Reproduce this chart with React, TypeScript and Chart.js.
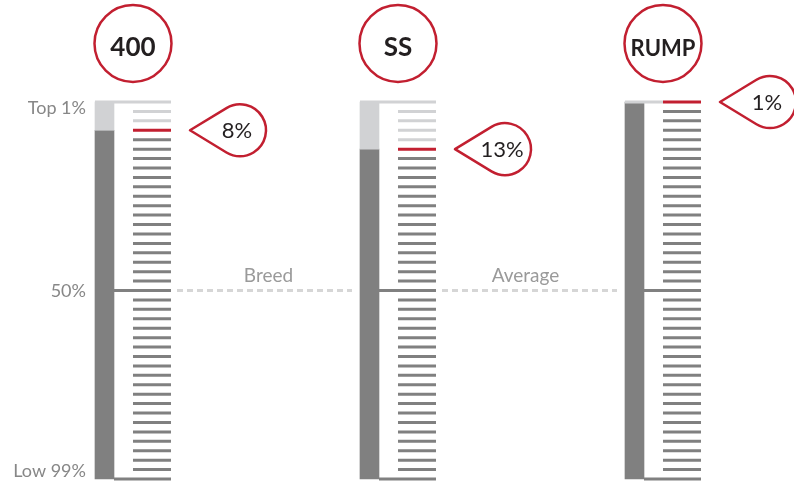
import React, { useEffect, useRef } from "react";
import { Chart, registerables } from "chart.js";

Chart.register(...registerables);

// ---- data ----
const traits: string[] = ["400", "SS", "RUMP"];
const percentiles: number[] = [8, 13, 1];
const scaleLabels: string[] = ["Top 1%", "50%", "Low 99%"];
const scaleLabelValues: number[] = [0, 50, 100];
const referenceLabels: string[] = ["Breed", "Average"];
const referenceValue = 50;
const tickStep = 2.5;
const scaleMin = 0;
const scaleMax = 100;

// ---- style ----
const RED = "#c21f30";
const DARK = "#808080";
const LIGHT = "#d1d2d4";
const DASH = "#d6d6d6";
const TEXT = "#231f20";
const LABEL = "#878787";
const FONT = "Lato, 'Noto Sans', sans-serif";

// layout: offsets in px relative to each gauge's bar centre; one gauge = 265px
const GAUGE_PX = 265;
const u = (px: number) => px / GAUGE_PX;
const X_MIN = -0.3943;
const X_MAX = 2.6019;
const BAR_HALF = 9.5;
const TICK_START = 28.5;
const TICK_END = 66.5;
const DASH_START = 72.5;
const DASH_END = 247.5;
const BODY_CENTER = 28.5;
const TIP_OFFSET = 85.5;
const BUBBLE_DIST = 50;
const BUBBLE_R = 26;
const REF_LABEL_POS = [164, 156];

const tickValues: number[] = [];
for (let v = scaleMin; v <= scaleMax + 1e-9; v += tickStep) tickValues.push(v);
const snap = (p: number) => Math.round(p / tickStep) * tickStep;

function buildTickData() {
  const light: any[] = [];
  const red: any[] = [];
  const dark: any[] = [];
  const seg = (arr: any[], x0: number, x1: number, v: number) => {
    arr.push({ x: x0, y: v }, { x: x1, y: v }, { x: x1, y: null });
  };
  traits.forEach((_, i) => {
    const m = snap(percentiles[i]);
    tickValues.forEach((v) => {
      const target = v < m ? light : v === m ? red : dark;
      seg(target, i + u(TICK_START), i + u(TICK_END), v);
      if (v === scaleMin) seg(light, i - u(BAR_HALF), i + u(TICK_START), v);
      if (v === referenceValue || v === scaleMax)
        seg(dark, i + u(BAR_HALF), i + u(TICK_START), v);
    });
  });
  return { light, red, dark };
}

function buildDashData() {
  const pts: any[] = [];
  for (let i = 0; i < traits.length - 1; i++) {
    pts.push(
      { x: i + u(DASH_START), y: referenceValue },
      { x: i + u(DASH_END), y: referenceValue },
      { x: i + u(DASH_END), y: null }
    );
  }
  return pts;
}

const overlayPlugin = {
  id: "gaugeOverlay",
  afterDatasetsDraw(chart: any) {
    const { ctx } = chart;
    const x = chart.scales.x;
    const y = chart.scales.y;
    ctx.save();

    // scale labels
    ctx.fillStyle = LABEL;
    ctx.font = `18px ${FONT}`;
    ctx.textAlign = "right";
    ctx.textBaseline = "alphabetic";
    const lblOff = [12, 6, -2];
    scaleLabels.forEach((t, k) => {
      ctx.fillText(t, x.getPixelForValue(0) - 18.5, y.getPixelForValue(scaleLabelValues[k]) + lblOff[k]);
    });

    // reference labels
    ctx.fillStyle = "#9a9a9a";
    ctx.font = `19px ${FONT}`;
    ctx.textAlign = "center";
    referenceLabels.forEach((t, k) => {
      ctx.fillText(t, x.getPixelForValue(k) + REF_LABEL_POS[k], y.getPixelForValue(referenceValue) - 8.5);
    });

    // trait circles
    traits.forEach((t, i) => {
      const cx = x.getPixelForValue(i) + BODY_CENTER;
      const cy = 43.5;
      ctx.beginPath();
      ctx.arc(cx, cy, 38.5, 0, Math.PI * 2);
      ctx.fillStyle = "#fff";
      ctx.fill();
      ctx.lineWidth = 2.5;
      ctx.strokeStyle = RED;
      ctx.stroke();
      ctx.fillStyle = TEXT;
      ctx.font = `bold ${t.length > 3 ? 22 : 26}px ${FONT}`;
      ctx.textAlign = "center";
      ctx.fillText(t, cx, 56);
    });

    // callouts
    traits.forEach((_, i) => {
      const tx = x.getPixelForValue(i) + TIP_OFFSET;
      const ty = y.getPixelForValue(snap(percentiles[i]));
      const cx = tx + BUBBLE_DIST;
      const a = Math.acos(BUBBLE_R / BUBBLE_DIST);
      ctx.beginPath();
      ctx.moveTo(tx, ty);
      ctx.arc(cx, ty, BUBBLE_R, Math.PI + a, Math.PI - a, false);
      ctx.closePath();
      ctx.fillStyle = "#fff";
      ctx.fill();
      ctx.lineJoin = "round";
      ctx.lineWidth = 2.5;
      ctx.strokeStyle = RED;
      ctx.stroke();
      ctx.fillStyle = TEXT;
      ctx.font = `22px ${FONT}`;
      ctx.textAlign = "center";
      ctx.fillText(`${percentiles[i]}%`, cx - 3, ty + 8);
    });

    ctx.restore();
  },
};

export default function App() {
  const ref = useRef<HTMLCanvasElement | null>(null);
  useEffect(() => {
    if (!ref.current) return;
    const ticks = buildTickData();
    const lineBase = {
      type: "line" as const,
      pointRadius: 0,
      borderWidth: 3,
      borderCapStyle: "butt" as const,
      spanGaps: false,
      fill: false,
      clip: false as any,
      order: 1,
    };
    const chart = new Chart(ref.current, {
      type: "bar",
      data: {
        datasets: [
          { ...lineBase, label: "dark ticks", data: ticks.dark, borderColor: DARK },
          { ...lineBase, label: "light ticks", data: ticks.light, borderColor: LIGHT },
          { ...lineBase, label: "marker", data: ticks.red, borderColor: RED },
          { ...lineBase, label: "reference", data: buildDashData(), borderColor: DASH, borderDash: [6, 4] },
          {
            type: "bar",
            label: "above",
            data: traits.map((_, i) => ({ x: i, y: [scaleMin, snap(percentiles[i])] })),
            backgroundColor: LIGHT,
            barThickness: 19,
            maxBarThickness: 19,
            grouped: false,
            order: 2,
            clip: false as any,
          } as any,
          {
            type: "bar",
            label: "below",
            data: traits.map((_, i) => ({ x: i, y: [snap(percentiles[i]), scaleMax] })),
            backgroundColor: DARK,
            barThickness: 19,
            maxBarThickness: 19,
            grouped: false,
            order: 3,
            clip: false as any,
          } as any,
        ] as any,
      },
      options: {
        animation: false,
        responsive: true,
        maintainAspectRatio: false,
        events: [],
        layout: { padding: { top: 102, bottom: 3, left: 0, right: 0 } },
        plugins: { legend: { display: false }, tooltip: { enabled: false } },
        scales: {
          x: { type: "linear", min: X_MIN, max: X_MAX, offset: false, display: false },
          y: { type: "linear", min: scaleMin, max: scaleMax, reverse: true, display: false },
        },
      },
      plugins: [overlayPlugin],
    });
    return () => chart.destroy();
  }, []);
  return (
    <div style={{ position: "fixed", left: 0, top: 0, width: 794, height: 482, background: "#fff" }}>
      <canvas ref={ref} />
    </div>
  );
}
